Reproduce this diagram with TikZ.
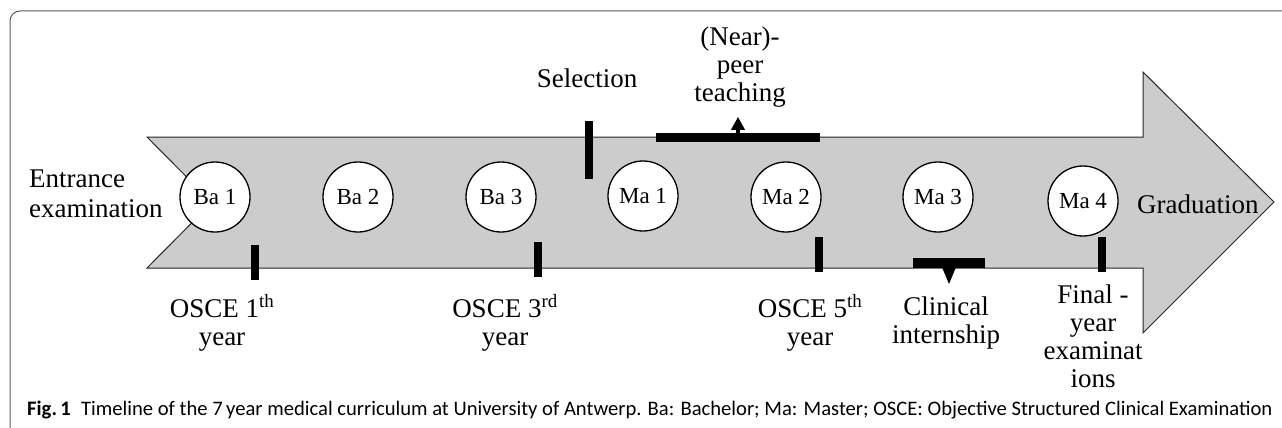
\documentclass[tikz,border=0pt]{standalone}
\usepackage{fontspec}
\setmainfont{Liberation Serif}
\newfontfamily\capfont{Carlito}
\usetikzlibrary{arrows.meta,calc}
\begin{document}
\begin{tikzpicture}[x=1pt,y=-1pt,
 lbl/.style={font=\fontsize{27}{28}\selectfont, align=center, inner sep=0pt, anchor=base},
 yr/.style={circle, draw=black, line width=1.3pt, fill=white, minimum size=70pt, inner sep=0pt, font=\fontsize{23}{26}\selectfont},
 bar/.style={fill=black, inner sep=0pt, draw=none, rectangle},
 vbar/.style={bar, minimum width=8pt, minimum height=35pt},
 band/.style={fill=gray!40, draw=gray!30!black, line width=1pt, line join=miter},
 frame/.style={draw=gray!70!black, line width=1pt, rounded corners=10pt},
]
\useasboundingbox (0,0) rectangle (1282,428);
\begin{scope}
\clip (0,0) rectangle (1282,428);
\draw[frame] (10,11) rectangle (1300,450);
\end{scope}
% big arrow
\draw[band] (147,137) -- (1143,137) -- (1143,72) -- (1274,202) -- (1143,333) -- (1143,268) -- (147,268) -- (212,202.5) -- cycle;
% years
\node[yr] (ba1) at (215,197) {Ba 1};
\node[yr] (ba2) at (358,197) {Ba 2};
\node[yr] (ba3) at (501,197) {Ba 3};
\node[yr] (ma1) at (643,196) {Ma 1};
\node[yr] (ma2) at (786,197) {Ma 2};
\node[yr] (ma3) at (938,197) {Ma 3};
\node[yr] (ma4) at (1083,201) {Ma 4};
% bars
\node[vbar] (o1) at (255,262.5) {};
\node[vbar] (o3) at (538,259.5) {};
\node[bar, minimum width=8pt, minimum height=58pt] (sel) at (589,150) {};
\node[bar, minimum width=164pt, minimum height=9pt] (peer) at (738,137.5) {};
\node[vbar] (o5) at (819,254.5) {};
\node[bar, minimum width=72pt, minimum height=10pt] (clin) at (949,263) {};
\node[vbar] (fin) at (1102,254.5) {};
% small arrows
\coordinate (ptip) at (738,117);
\fill ($(peer.north)+(-2,1)$) rectangle ($(peer.north)+(2,-4)$);
\fill ($(peer.north)+(-7,-3)$) -- ($(peer.north)+(7,-3)$) -- (ptip) -- cycle;
\coordinate (ctip) at (949,284);
\fill ($(clin.south)+(-7,-1)$) -- ($(clin.south)+(7,-1)$) -- (ctip) -- cycle;
% labels (base anchor = baseline of last line)
\node[lbl, anchor=base west, align=left] (entr) at (29,217) {Entrance\\[2pt]examination};
\node[lbl] (l1) at (222,345) {OSCE 1\textsuperscript{th}\\year};
\node[lbl] (l3) at (505,345) {OSCE 3\textsuperscript{rd}\\year};
\node[lbl] (lsel) at (587,87) {Selection};
\node[lbl] (lpeer) at (740,101) {(Near)-\\peer\\teaching};
\node[lbl] (l5) at (810,345) {OSCE 5\textsuperscript{th}\\year};
\node[lbl] (lclin) at (946,343) {Clinical\\internship};
\node[lbl] (lfin) at (1093,387) {Final -\\year\\examinat\\ions};
\node[lbl, anchor=base west] (grad) at (1137,213) {Graduation};
% caption
\node[anchor=base west, inner sep=0pt] (cap) at (27,415) {\resizebox{1245pt}{!}{\capfont\fontsize{20}{24}\selectfont\textbf{Fig.\,1}\enspace Timeline of the 7\,year medical curriculum at University of Antwerp. Ba: Bachelor; Ma: Master; OSCE: Objective Structured Clinical Examination}};
\end{tikzpicture}
\end{document}
